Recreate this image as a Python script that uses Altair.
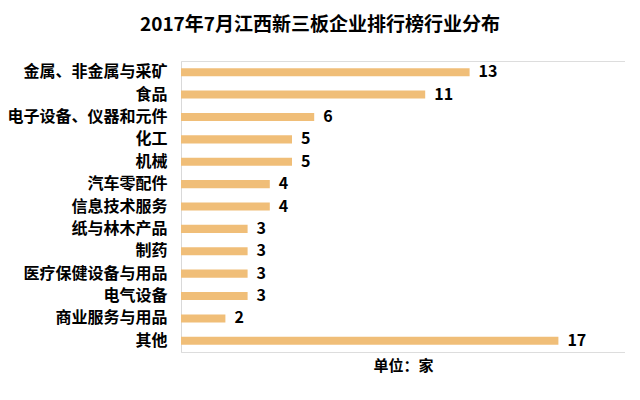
import altair as alt
import pandas as pd

categories = ["金属、非金属与采矿", "食品", "电子设备、仪器和元件", "化工", "机械",
              "汽车零配件", "信息技术服务", "纸与林木产品", "制药", "医疗保健设备与用品",
              "电气设备", "商业服务与用品", "其他"]
values = [13, 11, 6, 5, 5, 4, 4, 3, 3, 3, 3, 2, 17]

df = pd.DataFrame({"cat": categories, "val": values})
FONT = "Noto Sans CJK SC"

x = alt.X("val:Q", scale=alt.Scale(domain=[0, 20], nice=False),
          axis=alt.Axis(title="单位：家", labels=False, ticks=False, domain=False, grid=False,
                        titleFont=FONT, titleFontSize=15, titleFontWeight="bold",
                        titleColor="#000000", titlePadding=6))
y = alt.Y("cat:N", sort=categories,
          scale=alt.Scale(paddingInner=0.64, paddingOuter=0.32),
          axis=alt.Axis(title=None, ticks=False, domain=True, domainColor="#d9d9d9",
                        labelFont=FONT, labelFontSize=16, labelFontWeight="bold",
                        labelColor="#000000", labelPadding=14, labelLimit=300))

bars = alt.Chart(df).mark_bar(color="#F0BE78").encode(x=x, y=y)
text = alt.Chart(df).mark_text(align="left", baseline="middle", dx=9, font=FONT,
                               fontSize=16, fontWeight="bold", color="#000000").encode(
    x="val:Q", y=alt.Y("cat:N", sort=categories), text="val:Q")

chart = (bars + text).properties(
    width=444, height=291,
    title=alt.TitleParams("2017年7月江西新三板企业排行榜行业分布", font=FONT, fontSize=19,
                          fontWeight="bold", color="#000000", anchor="middle", offset=26,
                          dx=-83),
    autosize=alt.AutoSizeParams(type="none"),
    padding={"left": 173, "top": 53, "right": 0, "bottom": 40},
).configure_view(stroke=None).configure(background="white")

chart.save("out.html", embed_options={"renderer": "svg", "actions": False})
